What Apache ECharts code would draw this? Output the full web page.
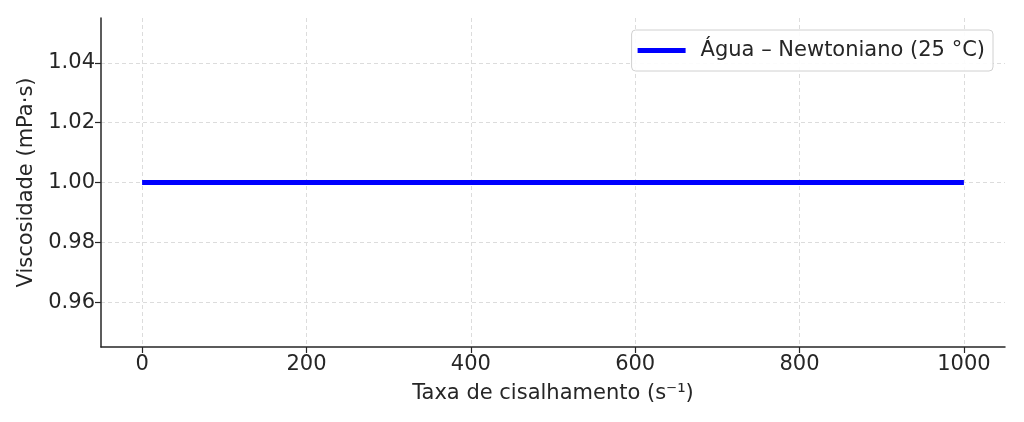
<!DOCTYPE html>
<html>
<head>
<meta charset="utf-8">
<script src="https://cdn.jsdelivr.net/npm/echarts@6/dist/echarts.min.js"></script>
<style>html,body{margin:0;padding:0;background:#fff}#c{width:1024px;height:422px}</style>
</head>
<body>
<div id="c"></div>
<script>
const seriesName = 'Água – Newtoniano (25 °C)';
const shearRate = [0, 200, 400, 600, 800, 1000];
const viscosity = [1.00, 1.00, 1.00, 1.00, 1.00, 1.00];
const xTicks = [0, 200, 400, 600, 800, 1000];
const yTicks = [0.96, 0.98, 1.00, 1.02, 1.04];

const font = 'DejaVu Sans';
const textColor = '#262626';
const chart = echarts.init(document.getElementById('c'));
chart.setOption({
  animation: false,
  textStyle: { fontFamily: font },
  grid: { left: 101, right: 19, top: 18, bottom: 75 },
  legend: {
    right: 31, top: 30,
    icon: 'rect', itemWidth: 48, itemHeight: 5,
    padding: [10, 8, 10, 6],
    itemGap: 10,
    borderColor: '#d0d0d0', borderWidth: 1, borderRadius: 4,
    backgroundColor: 'rgba(255,255,255,0.9)',
    textStyle: { fontFamily: font, fontSize: 21, color: textColor, padding: [0, 0, 0, 10] },
    data: [seriesName]
  },
  xAxis: {
    type: 'value', min: -50, max: 1050,
    name: 'Taxa de cisalhamento (s⁻¹)', nameLocation: 'middle', nameGap: 36,
    nameTextStyle: { fontFamily: font, fontSize: 21, color: textColor },
    axisLine: { onZero: false, lineStyle: { color: '#262626', width: 1.5 } },
    axisTick: { show: true, inside: false, length: 6, customValues: xTicks, lineStyle: { color: '#262626', width: 1.2 } },
    axisLabel: { customValues: xTicks, fontFamily: font, fontSize: 21, color: textColor, margin: 7,
      formatter: v => String(v) },
    splitLine: { show: true, lineStyle: { color: '#dcdcdc', type: [4, 3], width: 1 } }
  },
  yAxis: {
    type: 'value', min: 0.945, max: 1.055,
    name: 'Viscosidade (mPa·s)', nameLocation: 'middle', nameGap: 58,
    nameTextStyle: { fontFamily: font, fontSize: 21, color: textColor },
    axisLine: { show: true, onZero: false, lineStyle: { color: '#262626', width: 1.5 } },
    axisTick: { show: true, inside: false, length: 6, customValues: yTicks, lineStyle: { color: '#262626', width: 1.2 } },
    axisLabel: { customValues: yTicks, fontFamily: font, fontSize: 21, color: textColor, margin: 6,
      formatter: v => v.toFixed(2) },
    splitLine: { show: true, lineStyle: { color: '#dcdcdc', type: [4, 3], width: 1 } }
  },
  series: [{
    name: seriesName, type: 'line',
    data: shearRate.map((x, i) => [x, viscosity[i]]),
    showSymbol: false, symbol: 'none',
    lineStyle: { color: '#0000ff', width: 5 },
    itemStyle: { color: '#0000ff' }
  }]
});
</script>
</body>
</html>
